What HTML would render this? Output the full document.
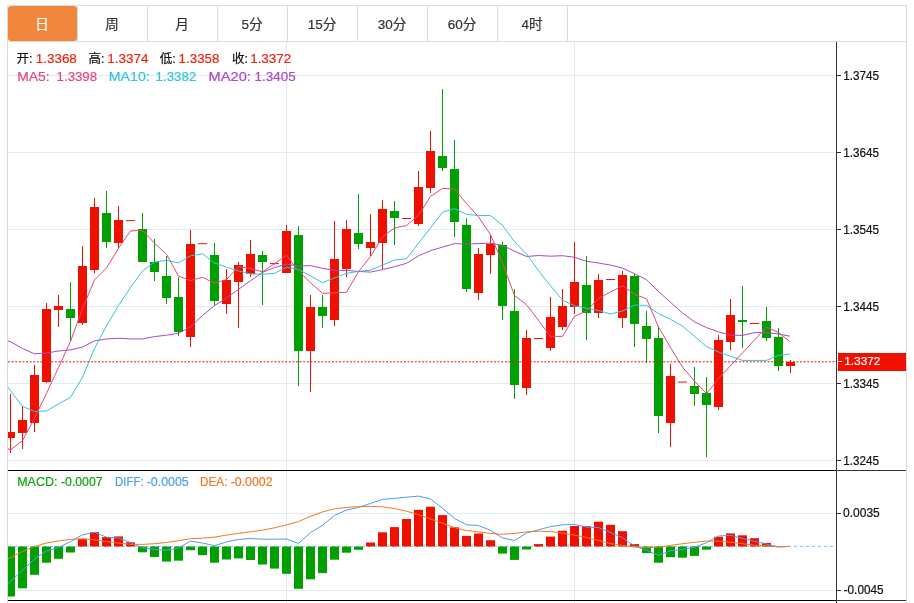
<!DOCTYPE html>
<html lang="zh-CN"><head><meta charset="utf-8"><title>K线图</title>
<style>
html,body{margin:0;padding:0;background:#fff;}
body{width:914px;height:603px;overflow:hidden;position:relative;font-family:"Liberation Sans","Noto Sans CJK SC",sans-serif;}
svg{position:absolute;left:0;top:0;display:block;}
text{font-family:"Liberation Sans","Noto Sans CJK SC",sans-serif;stroke-width:.2px;stroke-linejoin:round;}
.cj{font-family:"Liberation Sans","Noto Sans CJK SC",sans-serif;}
</style></head><body>
<svg width="914" height="603" viewBox="0 0 914 603">
<defs><clipPath id="cm"><rect x="8" y="42" width="828" height="428"/></clipPath><clipPath id="cd"><rect x="8" y="471" width="828" height="129"/></clipPath></defs>
<g shape-rendering="crispEdges">
<rect x="7" y="5" width="900" height="1" fill="#dcdcdc"/>
<rect x="7" y="41" width="900" height="1" fill="#dcdcdc"/>
<rect x="7" y="5" width="1" height="598" fill="#dcdcdc"/>
<rect x="906" y="5" width="1" height="598" fill="#dcdcdc"/>
<rect x="77" y="6" width="1" height="35" fill="#dcdcdc"/>
<rect x="147" y="6" width="1" height="35" fill="#dcdcdc"/>
<rect x="217" y="6" width="1" height="35" fill="#dcdcdc"/>
<rect x="287" y="6" width="1" height="35" fill="#dcdcdc"/>
<rect x="357" y="6" width="1" height="35" fill="#dcdcdc"/>
<rect x="427" y="6" width="1" height="35" fill="#dcdcdc"/>
<rect x="497" y="6" width="1" height="35" fill="#dcdcdc"/>
<rect x="567" y="6" width="1" height="35" fill="#dcdcdc"/>
</g>
<rect x="8" y="6" width="69" height="35" rx="3" ry="3" fill="#f0873c"/>
<g shape-rendering="crispEdges">
<rect x="8" y="75" width="828" height="1" fill="#e0ecf2"/>
<rect x="8" y="152" width="828" height="1" fill="#e0ecf2"/>
<rect x="8" y="229" width="828" height="1" fill="#e0ecf2"/>
<rect x="8" y="306" width="828" height="1" fill="#e0ecf2"/>
<rect x="8" y="383" width="828" height="1" fill="#e0ecf2"/>
<rect x="8" y="460" width="828" height="1" fill="#e0ecf2"/>
<rect x="8" y="513" width="828" height="1" fill="#e0ecf2"/>
<rect x="8" y="590" width="828" height="1" fill="#e0ecf2"/>
<rect x="286" y="42" width="1" height="561" fill="#e0ecf2"/>
<rect x="574" y="42" width="1" height="561" fill="#e0ecf2"/>
</g>
<g shape-rendering="crispEdges" clip-path="url(#cm)">
<rect x="10" y="394" width="1" height="59" fill="#ee1100"/>
<rect x="6" y="432" width="9" height="6" fill="#ee1100"/>
<rect x="22" y="406" width="1" height="43" fill="#ee1100"/>
<rect x="18" y="420" width="9" height="13" fill="#ee1100"/>
<rect x="34" y="365" width="1" height="67" fill="#ee1100"/>
<rect x="30" y="375" width="9" height="48" fill="#ee1100"/>
<rect x="46" y="303" width="1" height="80" fill="#ee1100"/>
<rect x="42" y="309" width="9" height="73" fill="#ee1100"/>
<rect x="58" y="295" width="1" height="32" fill="#ee1100"/>
<rect x="54" y="306" width="9" height="4" fill="#ee1100"/>
<rect x="70" y="282" width="1" height="59" fill="#00a000"/>
<rect x="66" y="309" width="9" height="9" fill="#00a000"/>
<rect x="82" y="246" width="1" height="79" fill="#ee1100"/>
<rect x="78" y="266" width="9" height="57" fill="#ee1100"/>
<rect x="94" y="198" width="1" height="75" fill="#ee1100"/>
<rect x="90" y="207" width="9" height="63" fill="#ee1100"/>
<rect x="106" y="191" width="1" height="57" fill="#00a000"/>
<rect x="102" y="213" width="9" height="29" fill="#00a000"/>
<rect x="118" y="206" width="1" height="42" fill="#ee1100"/>
<rect x="114" y="220" width="9" height="23" fill="#ee1100"/>
<rect x="126" y="220.10" width="9" height="1" fill="#ee1100" shape-rendering="geometricPrecision"/>
<rect x="142" y="213" width="1" height="49" fill="#00a000"/>
<rect x="138" y="229" width="9" height="33" fill="#00a000"/>
<rect x="154" y="239" width="1" height="42" fill="#00a000"/>
<rect x="150" y="262" width="9" height="10" fill="#00a000"/>
<rect x="166" y="256" width="1" height="48" fill="#00a000"/>
<rect x="162" y="276" width="9" height="22" fill="#00a000"/>
<rect x="178" y="277" width="1" height="59" fill="#00a000"/>
<rect x="174" y="297" width="9" height="35" fill="#00a000"/>
<rect x="190" y="230" width="1" height="117" fill="#ee1100"/>
<rect x="186" y="244" width="9" height="93" fill="#ee1100"/>
<rect x="198" y="243.20" width="9" height="1" fill="#ee1100" shape-rendering="geometricPrecision"/>
<rect x="214" y="243" width="1" height="62" fill="#00a000"/>
<rect x="210" y="255" width="9" height="46" fill="#00a000"/>
<rect x="226" y="269" width="1" height="45" fill="#ee1100"/>
<rect x="222" y="280" width="9" height="24" fill="#ee1100"/>
<rect x="238" y="262" width="1" height="66" fill="#ee1100"/>
<rect x="234" y="265" width="9" height="17" fill="#ee1100"/>
<rect x="250" y="240" width="1" height="37" fill="#ee1100"/>
<rect x="246" y="254" width="9" height="20" fill="#ee1100"/>
<rect x="262" y="251" width="1" height="54" fill="#00a000"/>
<rect x="258" y="255" width="9" height="7" fill="#00a000"/>
<rect x="270" y="263.10" width="9" height="1" fill="#ee1100" shape-rendering="geometricPrecision"/>
<rect x="286" y="225" width="1" height="48" fill="#ee1100"/>
<rect x="282" y="231" width="9" height="42" fill="#ee1100"/>
<rect x="298" y="226" width="1" height="160" fill="#00a000"/>
<rect x="294" y="235" width="9" height="116" fill="#00a000"/>
<rect x="310" y="295" width="1" height="97" fill="#ee1100"/>
<rect x="306" y="307" width="9" height="44" fill="#ee1100"/>
<rect x="322" y="295" width="1" height="33" fill="#00a000"/>
<rect x="318" y="307" width="9" height="9" fill="#00a000"/>
<rect x="334" y="221" width="1" height="105" fill="#ee1100"/>
<rect x="330" y="259" width="9" height="61" fill="#ee1100"/>
<rect x="346" y="220" width="1" height="57" fill="#ee1100"/>
<rect x="342" y="229" width="9" height="40" fill="#ee1100"/>
<rect x="358" y="194" width="1" height="55" fill="#00a000"/>
<rect x="354" y="233" width="9" height="11" fill="#00a000"/>
<rect x="370" y="214" width="1" height="42" fill="#ee1100"/>
<rect x="366" y="242" width="9" height="6" fill="#ee1100"/>
<rect x="382" y="200" width="1" height="69" fill="#ee1100"/>
<rect x="378" y="209" width="9" height="34" fill="#ee1100"/>
<rect x="394" y="201" width="1" height="44" fill="#00a000"/>
<rect x="390" y="211" width="9" height="7" fill="#00a000"/>
<rect x="402" y="218.00" width="9" height="1" fill="#ee1100" shape-rendering="geometricPrecision"/>
<rect x="418" y="171" width="1" height="55" fill="#ee1100"/>
<rect x="414" y="187" width="9" height="37" fill="#ee1100"/>
<rect x="430" y="131" width="1" height="62" fill="#ee1100"/>
<rect x="426" y="151" width="9" height="37" fill="#ee1100"/>
<rect x="442" y="89" width="1" height="82" fill="#00a000"/>
<rect x="438" y="156" width="9" height="12" fill="#00a000"/>
<rect x="454" y="140" width="1" height="97" fill="#00a000"/>
<rect x="450" y="169" width="9" height="53" fill="#00a000"/>
<rect x="466" y="218" width="1" height="74" fill="#00a000"/>
<rect x="462" y="225" width="9" height="64" fill="#00a000"/>
<rect x="478" y="248" width="1" height="52" fill="#ee1100"/>
<rect x="474" y="254" width="9" height="39" fill="#ee1100"/>
<rect x="490" y="235" width="1" height="39" fill="#ee1100"/>
<rect x="486" y="244" width="9" height="11" fill="#ee1100"/>
<rect x="502" y="242" width="1" height="78" fill="#00a000"/>
<rect x="498" y="245" width="9" height="61" fill="#00a000"/>
<rect x="514" y="289" width="1" height="110" fill="#00a000"/>
<rect x="510" y="311" width="9" height="74" fill="#00a000"/>
<rect x="526" y="330" width="1" height="65" fill="#ee1100"/>
<rect x="522" y="338" width="9" height="50" fill="#ee1100"/>
<rect x="534" y="338.00" width="9" height="1" fill="#ee1100" shape-rendering="geometricPrecision"/>
<rect x="550" y="297" width="1" height="54" fill="#ee1100"/>
<rect x="546" y="317" width="9" height="31" fill="#ee1100"/>
<rect x="562" y="289" width="1" height="41" fill="#ee1100"/>
<rect x="558" y="306" width="9" height="21" fill="#ee1100"/>
<rect x="574" y="242" width="1" height="72" fill="#ee1100"/>
<rect x="570" y="282" width="9" height="25" fill="#ee1100"/>
<rect x="586" y="256" width="1" height="84" fill="#00a000"/>
<rect x="582" y="285" width="9" height="28" fill="#00a000"/>
<rect x="598" y="274" width="1" height="44" fill="#ee1100"/>
<rect x="594" y="280" width="9" height="33" fill="#ee1100"/>
<rect x="606" y="279.00" width="9" height="1" fill="#ee1100" shape-rendering="geometricPrecision"/>
<rect x="622" y="271" width="1" height="57" fill="#ee1100"/>
<rect x="618" y="275" width="9" height="43" fill="#ee1100"/>
<rect x="634" y="274" width="1" height="73" fill="#00a000"/>
<rect x="630" y="276" width="9" height="48" fill="#00a000"/>
<rect x="646" y="311" width="1" height="52" fill="#00a000"/>
<rect x="642" y="326" width="9" height="13" fill="#00a000"/>
<rect x="658" y="326" width="1" height="107" fill="#00a000"/>
<rect x="654" y="338" width="9" height="78" fill="#00a000"/>
<rect x="670" y="364" width="1" height="83" fill="#ee1100"/>
<rect x="666" y="376" width="9" height="47" fill="#ee1100"/>
<rect x="678" y="381.55" width="9" height="1" fill="#ee1100" shape-rendering="geometricPrecision"/>
<rect x="694" y="367" width="1" height="39" fill="#00a000"/>
<rect x="690" y="386" width="9" height="8" fill="#00a000"/>
<rect x="706" y="377" width="1" height="80" fill="#00a000"/>
<rect x="702" y="393" width="9" height="12" fill="#00a000"/>
<rect x="718" y="335" width="1" height="75" fill="#ee1100"/>
<rect x="714" y="340" width="9" height="67" fill="#ee1100"/>
<rect x="730" y="299" width="1" height="51" fill="#ee1100"/>
<rect x="726" y="315" width="9" height="27" fill="#ee1100"/>
<rect x="742" y="286" width="1" height="62" fill="#00a000"/>
<rect x="738" y="320" width="9" height="2" fill="#00a000"/>
<rect x="750" y="323.00" width="9" height="1" fill="#ee1100" shape-rendering="geometricPrecision"/>
<rect x="766" y="307" width="1" height="34" fill="#00a000"/>
<rect x="762" y="321" width="9" height="17" fill="#00a000"/>
<rect x="778" y="328" width="1" height="43" fill="#00a000"/>
<rect x="774" y="337" width="9" height="29" fill="#00a000"/>
<rect x="790" y="360" width="1" height="13" fill="#ee1100"/>
<rect x="786" y="362" width="9" height="4" fill="#ee1100"/>
</g>
<line x1="8" y1="546.5" x2="836" y2="546.5" stroke="#82cdf0" stroke-width="1" stroke-dasharray="3 3" shape-rendering="crispEdges"/>
<g clip-path="url(#cd)">
<rect x="6" y="546.5" width="9" height="50.0" fill="#00a000"/>
<rect x="18" y="546.5" width="9" height="41.8" fill="#00a000"/>
<rect x="30" y="546.5" width="9" height="28.3" fill="#00a000"/>
<rect x="42" y="546.5" width="9" height="16.2" fill="#00a000"/>
<rect x="54" y="546.5" width="9" height="12.3" fill="#00a000"/>
<rect x="66" y="546.5" width="9" height="6.0" fill="#00a000"/>
<rect x="78" y="538.8" width="9" height="7.7" fill="#ee1100"/>
<rect x="90" y="532.1" width="9" height="14.4" fill="#ee1100"/>
<rect x="102" y="537.1" width="9" height="9.4" fill="#ee1100"/>
<rect x="114" y="536.4" width="9" height="10.1" fill="#ee1100"/>
<rect x="126" y="542.3" width="9" height="4.2" fill="#ee1100"/>
<rect x="138" y="546.5" width="9" height="5.8" fill="#00a000"/>
<rect x="150" y="546.5" width="9" height="10.5" fill="#00a000"/>
<rect x="162" y="546.5" width="9" height="15.1" fill="#00a000"/>
<rect x="174" y="546.5" width="9" height="14.2" fill="#00a000"/>
<rect x="186" y="546.5" width="9" height="3.7" fill="#00a000"/>
<rect x="198" y="546.5" width="9" height="8.7" fill="#00a000"/>
<rect x="210" y="546.5" width="9" height="16.2" fill="#00a000"/>
<rect x="222" y="546.5" width="9" height="13.0" fill="#00a000"/>
<rect x="234" y="546.5" width="9" height="11.9" fill="#00a000"/>
<rect x="246" y="546.5" width="9" height="13.5" fill="#00a000"/>
<rect x="258" y="546.5" width="9" height="18.0" fill="#00a000"/>
<rect x="270" y="546.5" width="9" height="22.1" fill="#00a000"/>
<rect x="282" y="546.5" width="9" height="27.3" fill="#00a000"/>
<rect x="294" y="546.5" width="9" height="42.3" fill="#00a000"/>
<rect x="306" y="546.5" width="9" height="32.8" fill="#00a000"/>
<rect x="318" y="546.5" width="9" height="26.6" fill="#00a000"/>
<rect x="330" y="546.5" width="9" height="13.2" fill="#00a000"/>
<rect x="342" y="546.5" width="9" height="6.2" fill="#00a000"/>
<rect x="354" y="546.5" width="9" height="3.3" fill="#00a000"/>
<rect x="366" y="542.5" width="9" height="4.0" fill="#ee1100"/>
<rect x="378" y="532.3" width="9" height="14.2" fill="#ee1100"/>
<rect x="390" y="527.1" width="9" height="19.4" fill="#ee1100"/>
<rect x="402" y="519.0" width="9" height="27.5" fill="#ee1100"/>
<rect x="414" y="509.9" width="9" height="36.6" fill="#ee1100"/>
<rect x="426" y="506.7" width="9" height="39.8" fill="#ee1100"/>
<rect x="438" y="515.1" width="9" height="31.4" fill="#ee1100"/>
<rect x="450" y="527.3" width="9" height="19.2" fill="#ee1100"/>
<rect x="462" y="535.9" width="9" height="10.6" fill="#ee1100"/>
<rect x="474" y="533.5" width="9" height="13.0" fill="#ee1100"/>
<rect x="486" y="540.2" width="9" height="6.3" fill="#ee1100"/>
<rect x="498" y="546.5" width="9" height="7.1" fill="#00a000"/>
<rect x="510" y="546.5" width="9" height="13.4" fill="#00a000"/>
<rect x="522" y="546.5" width="9" height="3.0" fill="#00a000"/>
<rect x="534" y="544.1" width="9" height="2.4" fill="#ee1100"/>
<rect x="546" y="536.6" width="9" height="9.9" fill="#ee1100"/>
<rect x="558" y="530.7" width="9" height="15.8" fill="#ee1100"/>
<rect x="570" y="526.0" width="9" height="20.5" fill="#ee1100"/>
<rect x="582" y="526.2" width="9" height="20.3" fill="#ee1100"/>
<rect x="594" y="521.7" width="9" height="24.8" fill="#ee1100"/>
<rect x="606" y="524.8" width="9" height="21.7" fill="#ee1100"/>
<rect x="618" y="531.2" width="9" height="15.3" fill="#ee1100"/>
<rect x="630" y="544.1" width="9" height="2.4" fill="#ee1100"/>
<rect x="642" y="546.5" width="9" height="6.6" fill="#00a000"/>
<rect x="654" y="546.5" width="9" height="16.2" fill="#00a000"/>
<rect x="666" y="546.5" width="9" height="10.7" fill="#00a000"/>
<rect x="678" y="546.5" width="9" height="11.2" fill="#00a000"/>
<rect x="690" y="546.5" width="9" height="9.4" fill="#00a000"/>
<rect x="702" y="546.5" width="9" height="3.2" fill="#00a000"/>
<rect x="714" y="536.8" width="9" height="9.7" fill="#ee1100"/>
<rect x="726" y="533.4" width="9" height="13.1" fill="#ee1100"/>
<rect x="738" y="535.3" width="9" height="11.2" fill="#ee1100"/>
<rect x="750" y="538.2" width="9" height="8.3" fill="#ee1100"/>
<rect x="762" y="542.9" width="9" height="3.6" fill="#ee1100"/>
</g>
<polyline clip-path="url(#cm)" points="-1.5,338.0 10.5,341.7 22.5,348.5 34.5,353.8 46.5,353.0 58.5,351.0 70.5,349.9 82.5,347.1 94.5,340.9 106.5,338.9 118.5,338.3 130.5,338.9 142.5,338.9 154.5,336.6 166.5,335.2 178.5,333.3 190.5,326.8 202.5,315.5 214.5,305.6 226.5,298.0 238.5,289.3 250.5,280.8 262.5,272.4 274.5,267.6 286.5,264.1 298.5,266.1 310.5,265.6 322.5,268.4 334.5,270.4 346.5,270.4 358.5,271.4 370.5,272.1 382.5,269.6 394.5,266.6 406.5,263.3 418.5,255.8 430.5,250.7 442.5,247.1 454.5,243.6 466.5,244.1 478.5,243.6 490.5,243.1 502.5,245.4 514.5,251.2 526.5,256.5 538.5,255.5 550.5,256.2 562.5,255.7 574.5,257.3 586.5,261.3 598.5,263.0 610.5,265.1 622.5,268.1 634.5,273.7 646.5,279.7 658.5,291.5 670.5,302.3 682.5,313.0 694.5,321.8 706.5,327.6 718.5,331.9 730.5,335.2 742.5,335.4 754.5,332.6 766.5,332.6 778.5,333.9 789.8,336.2" fill="none" stroke="#ad48c6" stroke-width="1.0" stroke-linejoin="round" stroke-linecap="butt"/>
<polyline clip-path="url(#cm)" points="-1.5,374.0 10.5,390.8 22.5,406.3 34.5,411.5 46.5,411.0 58.5,403.8 70.5,397.5 82.5,377.2 94.5,348.4 106.5,326.0 118.5,305.5 130.5,287.4 142.5,271.0 154.5,262.1 166.5,260.4 178.5,262.9 190.5,255.8 202.5,253.8 214.5,262.9 226.5,267.2 238.5,270.9 250.5,273.9 262.5,274.2 274.5,273.4 286.5,267.1 298.5,269.6 310.5,275.9 322.5,282.7 334.5,277.9 346.5,273.4 358.5,271.4 370.5,270.1 382.5,265.1 394.5,260.0 406.5,258.8 418.5,243.1 430.5,228.0 442.5,212.3 454.5,208.6 466.5,214.4 478.5,215.4 490.5,215.6 502.5,225.3 514.5,241.6 526.5,254.2 538.5,270.6 550.5,285.8 562.5,300.1 574.5,305.8 586.5,308.2 598.5,310.6 610.5,314.0 622.5,311.0 634.5,305.2 646.5,305.4 658.5,313.6 670.5,319.3 682.5,326.1 694.5,336.4 706.5,346.5 718.5,352.1 730.5,356.3 742.5,360.4 754.5,360.4 766.5,360.4 778.5,355.3 789.8,354.1" fill="none" stroke="#35c3de" stroke-width="1.0" stroke-linejoin="round" stroke-linecap="butt"/>
<polyline clip-path="url(#cm)" points="-1.5,444.4 10.5,449.9 22.5,440.6 34.5,418.2 46.5,393.3 58.5,367.5 70.5,341.4 82.5,308.5 94.5,280.0 106.5,267.9 118.5,248.3 130.5,230.9 142.5,230.4 154.5,243.2 166.5,254.3 178.5,276.0 190.5,280.6 202.5,277.3 214.5,283.1 226.5,279.5 238.5,266.6 250.5,268.5 262.5,271.8 274.5,263.8 286.5,255.2 298.5,270.9 310.5,282.7 322.5,293.3 334.5,292.8 346.5,292.3 358.5,271.6 370.5,256.5 382.5,236.8 394.5,228.0 406.5,225.6 418.5,215.2 430.5,196.5 442.5,188.4 454.5,189.0 466.5,203.6 478.5,216.8 490.5,234.7 502.5,263.0 514.5,295.5 526.5,304.7 538.5,320.5 550.5,336.3 562.5,336.4 574.5,316.3 586.5,311.0 598.5,298.4 610.5,292.0 622.5,285.8 634.5,294.3 646.5,298.8 658.5,327.0 670.5,347.5 682.5,367.2 694.5,381.0 706.5,393.7 718.5,378.6 730.5,365.7 742.5,352.9 754.5,340.1 766.5,327.2 778.5,332.5 789.8,341.6" fill="none" stroke="#e8457e" stroke-width="1.0" stroke-linejoin="round" stroke-linecap="butt"/>
<polyline clip-path="url(#cd)" points="-1.5,593.0 10.5,581.5 22.5,570.2 34.5,559.1 46.5,550.9 58.5,547.5 70.5,541.6 82.5,534.8 94.5,532.3 106.5,537.1 118.5,538.0 130.5,542.5 142.5,547.8 154.5,549.3 166.5,550.2 178.5,547.8 190.5,541.2 202.5,543.0 214.5,545.7 226.5,541.9 238.5,539.4 250.5,538.5 262.5,539.2 274.5,539.2 286.5,539.0 298.5,543.4 310.5,532.6 322.5,525.3 334.5,515.4 346.5,510.1 358.5,507.4 370.5,503.4 382.5,499.3 394.5,498.4 406.5,497.2 418.5,496.1 430.5,499.0 442.5,508.3 454.5,518.4 466.5,524.8 478.5,525.5 490.5,530.3 502.5,538.0 514.5,540.5 526.5,533.0 538.5,529.8 550.5,526.6 562.5,524.8 574.5,524.4 586.5,527.1 598.5,527.6 610.5,532.5 622.5,537.8 634.5,545.9 646.5,550.4 658.5,555.4 670.5,550.7 682.5,549.5 694.5,547.2 706.5,542.7 718.5,536.0 730.5,535.3 742.5,538.4 754.5,541.4 766.5,544.1 778.5,546.8 789.8,546.4" fill="none" stroke="#4a9ff0" stroke-width="1.0" stroke-linejoin="round" stroke-linecap="butt"/>
<polyline clip-path="url(#cd)" points="-1.5,564.2 10.5,557.5 22.5,551.4 34.5,546.4 46.5,543.0 58.5,540.9 70.5,539.4 82.5,538.9 94.5,539.8 106.5,541.6 118.5,543.0 130.5,544.3 142.5,544.4 154.5,543.7 166.5,542.5 178.5,540.7 190.5,538.7 202.5,538.2 214.5,537.1 226.5,535.1 238.5,533.3 250.5,531.9 262.5,530.1 274.5,527.8 286.5,524.9 298.5,521.5 310.5,516.3 322.5,511.9 334.5,508.8 346.5,507.4 358.5,506.7 370.5,506.3 382.5,506.9 394.5,508.5 406.5,511.2 418.5,514.7 430.5,519.0 442.5,523.2 454.5,527.7 466.5,530.5 478.5,531.9 490.5,533.4 502.5,534.3 514.5,533.4 526.5,531.9 538.5,531.2 550.5,531.6 562.5,533.0 574.5,535.2 586.5,537.5 598.5,540.5 610.5,543.6 622.5,545.5 634.5,547.0 646.5,547.7 658.5,547.2 670.5,545.4 682.5,543.7 694.5,542.3 706.5,541.1 718.5,541.1 730.5,542.3 742.5,543.7 754.5,545.2 766.5,545.9 778.5,547.0 789.8,546.4" fill="none" stroke="#f47820" stroke-width="1.0" stroke-linejoin="round" stroke-linecap="butt"/>
<line x1="8" y1="361.8" x2="836" y2="361.8" stroke="#ee1100" stroke-width="1" stroke-dasharray="2 1.6"/>
<rect x="838" y="353" width="68" height="18" fill="#ee1100" shape-rendering="crispEdges"/>
<g shape-rendering="crispEdges" fill="#333">
<rect x="8" y="470" width="828" height="1" fill="#000"/>
<rect x="8" y="600" width="828" height="1" fill="#000"/>
<rect x="836" y="470" width="70" height="1"/>
<rect x="836" y="600" width="70" height="1"/>
<rect x="836" y="42" width="1" height="561"/>
<rect x="837" y="75" width="4" height="1"/>
<rect x="837" y="152" width="4" height="1"/>
<rect x="837" y="229" width="4" height="1"/>
<rect x="837" y="306" width="4" height="1"/>
<rect x="837" y="383" width="4" height="1"/>
<rect x="837" y="460" width="4" height="1"/>
<rect x="837" y="513" width="4" height="1"/>
<rect x="837" y="590" width="4" height="1"/>
<rect x="838" y="361" width="4" height="1" fill="#fff"/>
</g>
<g font-size="12px" fill="#111" stroke="#111">
<text x="843.3" y="79.5" textLength="35.8" lengthAdjust="spacingAndGlyphs">1.3745</text>
<text x="843.3" y="156.5" textLength="35.8" lengthAdjust="spacingAndGlyphs">1.3645</text>
<text x="843.3" y="233.5" textLength="35.8" lengthAdjust="spacingAndGlyphs">1.3545</text>
<text x="843.3" y="310.5" textLength="35.8" lengthAdjust="spacingAndGlyphs">1.3445</text>
<text x="843.3" y="387.5" textLength="35.8" lengthAdjust="spacingAndGlyphs">1.3345</text>
<text x="843.3" y="464.5" textLength="35.8" lengthAdjust="spacingAndGlyphs">1.3245</text>
<text x="843.1" y="517.4" textLength="36.7" lengthAdjust="spacingAndGlyphs">0.0035</text>
<text x="843.7" y="594.3" textLength="39.8" lengthAdjust="spacingAndGlyphs">-0.0045</text>
<text x="844.2" y="365.3" font-size="11.5px" fill="#fff" stroke="#fff" textLength="36.2" lengthAdjust="spacingAndGlyphs">1.3372</text>
</g>
<g font-size="13.5px" fill="#333" stroke="#333" text-anchor="middle" stroke-width="0">
<text x="42" y="29.3" fill="#fff" stroke="#fff">日</text>
<text x="112" y="29.3">周</text>
<text x="182" y="29.3">月</text>
<text x="252" y="29.3">5分</text>
<text x="322" y="29.3">15分</text>
<text x="392" y="29.3">30分</text>
<text x="462" y="29.3">60分</text>
<text x="532" y="29.3">4时</text>
</g>
<g font-size="13.5px">
<text x="16.6" y="62.8" font-size="12.5px" fill="#111" stroke="#111">开:</text>
<text x="35.8" y="62.8" fill="#f0220e" stroke="#f0220e" textLength="41" lengthAdjust="spacingAndGlyphs">1.3368</text>
<text x="88.6" y="62.8" font-size="12.5px" fill="#111" stroke="#111">高:</text>
<text x="107.3" y="62.8" fill="#f0220e" stroke="#f0220e" textLength="41.2" lengthAdjust="spacingAndGlyphs">1.3374</text>
<text x="159.8" y="62.8" font-size="12.5px" fill="#111" stroke="#111">低:</text>
<text x="178.6" y="62.8" fill="#f0220e" stroke="#f0220e" textLength="40.8" lengthAdjust="spacingAndGlyphs">1.3358</text>
<text x="232" y="62.8" font-size="12.5px" fill="#111" stroke="#111">收:</text>
<text x="250.2" y="62.8" fill="#f0220e" stroke="#f0220e" textLength="41" lengthAdjust="spacingAndGlyphs">1.3372</text>
</g>
<g font-size="13.5px">
<text x="17.2" y="81" fill="#e8457e" stroke="#e8457e" textLength="32.5" lengthAdjust="spacingAndGlyphs">MA5:</text>
<text x="56.6" y="81" fill="#e8457e" stroke="#e8457e" textLength="40.5" lengthAdjust="spacingAndGlyphs">1.3398</text>
<text x="108.8" y="81" fill="#35c3de" stroke="#35c3de" textLength="41" lengthAdjust="spacingAndGlyphs">MA10:</text>
<text x="155.6" y="81" fill="#35c3de" stroke="#35c3de" textLength="40.7" lengthAdjust="spacingAndGlyphs">1.3382</text>
<text x="208.6" y="81" fill="#ad48c6" stroke="#ad48c6" textLength="42.3" lengthAdjust="spacingAndGlyphs">MA20:</text>
<text x="254.6" y="81" fill="#ad48c6" stroke="#ad48c6" textLength="41" lengthAdjust="spacingAndGlyphs">1.3405</text>
</g>
<g font-size="13px">
<text x="17.2" y="486" fill="#12a312" stroke="#12a312" textLength="40.3" lengthAdjust="spacingAndGlyphs">MACD:</text>
<text x="61" y="486" fill="#12a312" stroke="#12a312" textLength="41.5" lengthAdjust="spacingAndGlyphs">-0.0007</text>
<text x="115" y="486" fill="#4a9ff0" stroke="#4a9ff0" textLength="28.6" lengthAdjust="spacingAndGlyphs">DIFF:</text>
<text x="146.7" y="486" fill="#4a9ff0" stroke="#4a9ff0" textLength="42" lengthAdjust="spacingAndGlyphs">-0.0005</text>
<text x="200" y="486" fill="#f47820" stroke="#f47820" textLength="27.4" lengthAdjust="spacingAndGlyphs">DEA:</text>
<text x="230.7" y="486" fill="#f47820" stroke="#f47820" textLength="41.8" lengthAdjust="spacingAndGlyphs">-0.0002</text>
</g>
</svg>
</body></html>
